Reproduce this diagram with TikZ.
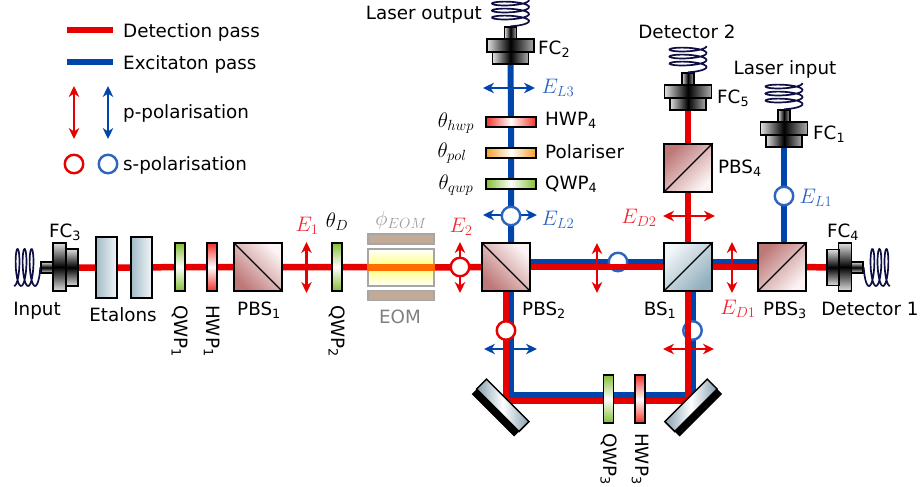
\RequirePackage{fix-cm}
\documentclass[tikz,border=0pt]{standalone}
\usepackage{fontspec}
\setmainfont{DejaVu Sans}
\usetikzlibrary{arrows.meta,backgrounds}
\definecolor{detred}{RGB}{230,0,0}
\definecolor{excblue}{RGB}{0,70,170}
\definecolor{labred}{RGB}{240,40,50}
\definecolor{labblue}{RGB}{45,100,190}
\definecolor{cubered}{RGB}{190,120,120}
\definecolor{cubelight}{RGB}{252,244,244}
\definecolor{bsblue}{RGB}{145,175,190}
\definecolor{bslight}{RGB}{242,246,248}
\definecolor{platered}{RGB}{240,50,40}
\definecolor{plategreen}{RGB}{130,190,50}
\definecolor{plateorange}{RGB}{245,160,40}
\definecolor{mirrorgrey}{RGB}{135,160,175}
\definecolor{eomtan}{RGB}{195,170,150}
\definecolor{coilblue}{RGB}{15,15,70}

\begin{document}
\begin{tikzpicture}[x=1pt,y=-1pt,line cap=butt,>={Stealth[length=11pt,width=10.5pt,inset=3.5pt]}]
	\tikzstyle{txt}=[inner sep=0,font=\fontsize{18.3}{20}\selectfont];
	\tikzstyle{mth}=[inner sep=0,font=\fontsize{21}{24}\selectfont];
	\tikzstyle{detbeam}=[detred,line width=6.5pt];
	\tikzstyle{excbeam}=[excblue,line width=6pt];
	\tikzstyle{cube}=[draw=black,line width=1.5pt,inner sep=0,minimum size=48pt];
	\tikzstyle{pbsa}=[cube,left color=cubered,right color=cubelight,shading angle=135];
	\tikzstyle{pbsb}=[cube,left color=cubered,right color=cubelight,shading angle=45];
	\tikzstyle{bscube}=[cube,left color=bslight,right color=bsblue,shading angle=45];
	\tikzstyle{etalon}=[draw=black,line width=1.5pt,inner sep=0,minimum width=21pt,minimum height=61pt,left color=bsblue!85,right color=bslight];
	\tikzstyle{plate}=[draw=black,line width=1.5pt,inner sep=0,minimum width=10pt,minimum height=48pt];
	\tikzstyle{flat}=[draw=black,line width=1.5pt,inner sep=0,minimum width=50pt,minimum height=10pt];
	\tikzstyle{fcv}=[draw=black,line width=1.4pt,inner sep=0,left color=gray!25,right color=gray!65,middle color=black];
	\tikzstyle{fch}=[draw=black,line width=1.4pt,inner sep=0,top color=gray!25,bottom color=gray!25,middle color=black];
	\tikzstyle{coil}=[coilblue,line width=1.7pt];
	\tikzstyle{mirror}=[draw=black,line width=1.5pt,inner sep=0,minimum width=60pt,minimum height=14pt,left color=mirrorgrey,right color=mirrorgrey,middle color=white];
	\tikzstyle{backing}=[fill=black,inner sep=0,minimum width=60pt,minimum height=7pt];
	\tikzstyle{spol}=[circle,fill=white,line width=2.4pt,inner sep=0,minimum size=18.5pt];
	\tikzstyle{redarrow}=[<->,detred,line width=2.3pt];
	\tikzstyle{bluearrow}=[<->,excblue,line width=2.3pt];
	\useasboundingbox (0,0) rectangle (921,487);
	%% legend
	\coordinate (legdetA) at (67,30);
	\coordinate (legdetB) at (113,30);
	\coordinate (legexcA) at (67,62);
	\coordinate (legexcB) at (113,62);
	\coordinate (legredA) at (74,86);
	\coordinate (legredB) at (74,139);
	\coordinate (legblueA) at (108,86);
	\coordinate (legblueB) at (108,139);
	\node[txt,anchor=west] (legdet) at (123,32.5) {Detection pass};
	\node[txt,anchor=west] (legexc) at (123,64) {Excitaton pass};
	\node[txt,anchor=west] (legp) at (123,113) {p-polarisation};
	\node[txt,anchor=west] (legs) at (123,165) {s-polarisation};
	\node[spol,draw=detred] (legcircr) at (74,164) {};
	\node[spol,draw=labblue] (legcircb) at (108,164) {};
	\draw[detbeam] (legdetA) -- (legdetB);
	\draw[excbeam] (legexcA) -- (legexcB);
	\draw[redarrow] (legredA) -- (legredB);
	\draw[bluearrow] (legblueA) -- (legblueB);
	%% cubes
	\node[pbsa] (pbs1) at (258,267) {};
	\node[pbsa] (pbs2) at (506,267) {};
	\node[bscube] (bs1) at (688,267) {};
	\node[pbsb] (pbs3) at (782,267) {};
	\node[pbsb] (pbs4) at (688,168) {};
	\draw[line width=1.2pt] (pbs1.north west) -- (pbs1.south east);
	\draw[line width=1.2pt] (pbs2.north west) -- (pbs2.south east);
	\draw[line width=1.2pt] (bs1.south west) -- (bs1.north east);
	\draw[line width=1.2pt] (pbs3.south west) -- (pbs3.north east);
	\draw[line width=1.2pt] (pbs4.south west) -- (pbs4.north east);
	%% etalons and plates
	\node[etalon] (etalonA) at (106.5,267.5) {};
	\node[etalon] (etalonB) at (141.5,267.5) {};
	\node[plate,top color=plategreen,bottom color=plategreen,middle color=white] (qwp1) at (180,267) {};
	\node[plate,top color=platered,bottom color=platered,middle color=white] (hwp1) at (212,267) {};
	\node[plate,top color=plategreen,bottom color=plategreen,middle color=white] (qwp2) at (337,267) {};
	\node[plate,top color=plategreen,bottom color=plategreen,middle color=white] (qwp3) at (608.5,399) {};
	\node[plate,top color=platered,bottom color=platered,middle color=white] (hwp3) at (640,399) {};
	\node[flat,left color=platered,right color=platered,middle color=white] (hwp4) at (511,122) {};
	\node[flat,left color=plateorange,right color=plateorange,middle color=white] (polr) at (511,153) {};
	\node[flat,left color=plategreen,right color=plategreen,middle color=white] (qwp4) at (511,184) {};
	%% eom
	\node[draw=gray!70,line width=1.2pt,inner sep=0,minimum width=66pt,minimum height=37pt,top color=white,bottom color=white,middle color=yellow!55] (eom) at (401,267.5) {};
	\node[draw=gray!70,fill=eomtan,line width=1.2pt,inner sep=0,minimum width=66pt,minimum height=10pt] (eomtop) at (401,239) {};
	\node[draw=gray!70,fill=eomtan,line width=1.2pt,inner sep=0,minimum width=66pt,minimum height=10pt] (eombot) at (401,295.5) {};
	\draw[orange!85!red,line width=6.5pt] (eom.west) -- (eom.east);
	%% mirrors
	\node[backing,rotate=-45] (mirlback) at (495.4,412.8) {};
	\node[mirror,rotate=-45] (mirl) at (502.8,405.3) {};
	\node[backing,rotate=45] (mirrback) at (698.4,412.8) {};
	\node[mirror,rotate=45] (mirr) at (691,405.3) {};
	%% fibre couplers
	\node[fcv,minimum width=12pt,minimum height=12pt] (fc2stem) at (510.5,33) {};
	\node[fcv,minimum width=47pt,minimum height=13pt] (fc2wide) at (510.5,45.5) {};
	\node[fcv,minimum width=36pt,minimum height=12pt] (fc2neck) at (510.5,58) {};
	\node[fcv,minimum width=12pt,minimum height=12pt] (fc5stem) at (688,79) {};
	\node[fcv,minimum width=47pt,minimum height=13pt] (fc5wide) at (688,91.5) {};
	\node[fcv,minimum width=36pt,minimum height=12pt] (fc5neck) at (688,104) {};
	\node[fcv,minimum width=12pt,minimum height=12pt] (fc1stem) at (784,116) {};
	\node[fcv,minimum width=47pt,minimum height=13pt] (fc1wide) at (784,128.5) {};
	\node[fcv,minimum width=36pt,minimum height=12pt] (fc1neck) at (784,141) {};
	\node[fch,minimum width=12pt,minimum height=11pt] (fc3stem) at (47,267.5) {};
	\node[fch,minimum width=13pt,minimum height=48pt] (fc3wide) at (59.5,267) {};
	\node[fch,minimum width=12pt,minimum height=37pt] (fc3neck) at (72,267.5) {};
	\node[fch,minimum width=12pt,minimum height=11pt] (fc4stem) at (857,267.5) {};
	\node[fch,minimum width=13pt,minimum height=48pt] (fc4wide) at (845,267) {};
	\node[fch,minimum width=12pt,minimum height=36pt] (fc4neck) at (833,267.5) {};
	%% coils
	\foreach \fcend in {fc2stem.north,fc5stem.north,fc1stem.north}
		\draw[coil,shift={(\fcend)}] plot[domain=0:3.25,samples=90,smooth] ({18.5*sin(360*\x)},{-7*\x-3.5*(1-cos(360*\x))});
	\draw[coil,shift={(fc3stem.west)}] plot[domain=0:3.25,samples=90,smooth] ({-7*\x-3.5*(1-cos(360*\x))},{18.5*sin(360*\x)});
	\draw[coil,shift={(fc4stem.east)}] plot[domain=0:3.25,samples=90,smooth] ({7*\x+3.5*(1-cos(360*\x))},{18.5*sin(360*\x)});
	%% turning points
	\coordinate (bluetl) at (511,395);
	\coordinate (bluetr) at (693,395);
	\coordinate (redtl) at (506,401);
	\coordinate (redtr) at (688,401);
	%% beams
	\begin{pgfonlayer}{background}
		\draw[excbeam] ([xshift=5pt]pbs2.north) -- (qwp4) -- (polr) -- (hwp4) -- (fc2neck);
		\draw[excbeam] (fc1neck.south) -- (fc1neck.south |- pbs3.north);
		\draw[excbeam] ([yshift=5pt]pbs2.east) -- ([yshift=5pt]bs1.west);
		\draw[excbeam] ([yshift=5pt]bs1.east) -- ([yshift=5pt]pbs3.west);
		\draw[excbeam,line cap=rect] ([xshift=5pt]pbs2.south) -- (bluetl) -- (bluetr) -- ([xshift=5pt]bs1.south);
		\node[spol,draw=labblue] (hidcircA) at (618,262) {};
		\node[spol,draw=labblue] (hidcircB) at (692.5,330.5) {};
		\coordinate (elowA) at (484,349);
		\coordinate (elowB) at (537,349);
		\draw[bluearrow] (elowA) -- (elowB);
		\draw[detbeam] (fc3neck) -- (etalonA) -- (etalonB) -- (qwp1) -- (hwp1) -- (pbs1) -- (qwp2) -- (eom);
		\draw[detbeam] (eom) -- (pbs2);
		\draw[detbeam] (pbs2.east) -- (bs1.west);
		\draw[detbeam] (bs1.east) -- (pbs3.west);
		\draw[detbeam] (pbs3.east) -- (fc4neck.west);
		\draw[detbeam] (bs1) -- (pbs4);
		\draw[detbeam] (pbs4) -- (fc5neck);
		\draw[detbeam] (pbs2.south) -- (redtl) -- (redtr) -- (bs1.south);
	\end{pgfonlayer}
	%% polarisation marks
	\coordinate (eoneA) at (306.5,242);
	\coordinate (eoneB) at (306.5,293);
	\coordinate (etwoA) at (460,242);
	\coordinate (etwoB) at (460,293);
	\coordinate (emidA) at (597,243);
	\coordinate (emidB) at (597,293);
	\coordinate (edoneA) at (732,242);
	\coordinate (edoneB) at (732,293);
	\coordinate (edtwoA) at (663,216);
	\coordinate (edtwoB) at (715,216);
	\coordinate (erlowA) at (663,349);
	\coordinate (erlowB) at (714,349);
	\coordinate (eltwoA) at (483,215);
	\coordinate (eltwoB) at (537,215);
	\coordinate (elthrA) at (483,88);
	\coordinate (elthrB) at (535,88);
	\draw[redarrow] (eoneA) -- (eoneB);
	\draw[redarrow] (etwoA) -- (etwoB);
	\draw[redarrow] (emidA) -- (emidB);
	\draw[redarrow] (edoneA) -- (edoneB);
	\draw[redarrow] (edtwoA) -- (edtwoB);
	\draw[redarrow] (erlowA) -- (erlowB);
	\draw[bluearrow] (eltwoA) -- (eltwoB);
	\draw[bluearrow] (elthrA) -- (elthrB);
	\node[spol,draw=detred] (circtwo) at (460,267) {};
	\node[spol,draw=detred] (circlow) at (506,330.5) {};
	\node[spol,draw=labblue] (circltwo) at (511,216) {};
	\node[spol,draw=labblue] (circlone) at (784,196) {};
	%% labels
	\node[txt,anchor=east] (lasout) at (482,15) {Laser output};
	\node[txt] (dettwo) at (687,32) {Detector 2};
	\node[txt] (lasin) at (785,69) {Laser input};
	\node[txt] (input) at (37,311) {Input};
	\node[txt] (etalons) at (123,315) {Etalons};
	\node[txt] (detone) at (870,309) {Detector 1};
	\node[txt,gray] (eomlab) at (400,317) {EOM};
	\node[txt,anchor=west] (fc2lab) at (538,49) {FC\textsubscript{2}};
	\node[txt,anchor=west] (fc5lab) at (717,98) {FC\textsubscript{5}};
	\node[txt,anchor=west] (fc1lab) at (813,134) {FC\textsubscript{1}};
	\node[txt] (fc3lab) at (65,232) {FC\textsubscript{3}};
	\node[txt] (fc4lab) at (843,232) {FC\textsubscript{4}};
	\node[txt] (pbs1lab) at (259,310) {PBS\textsubscript{1}};
	\node[txt] (pbs2lab) at (544,310) {PBS\textsubscript{2}};
	\node[txt] (bs1lab) at (660,310) {BS\textsubscript{1}};
	\node[txt] (pbs3lab) at (785,310) {PBS\textsubscript{3}};
	\node[txt,anchor=west] (pbs4lab) at (718,168) {PBS\textsubscript{4}};
	\node[txt,anchor=west] (hwp4lab) at (545,120) {HWP\textsubscript{4}};
	\node[txt,anchor=west] (pollab) at (545,152) {Polariser};
	\node[txt,anchor=west] (qwp4lab) at (545,184) {QWP\textsubscript{4}};
	\node[txt,rotate=-90,anchor=west] (qwp1lab) at (180,305) {QWP\textsubscript{1}};
	\node[txt,rotate=-90,anchor=west] (hwp1lab) at (212,305) {HWP\textsubscript{1}};
	\node[txt,rotate=-90,anchor=west] (qwp2lab) at (337,305) {QWP\textsubscript{2}};
	\node[txt,rotate=-90,anchor=west] (qwp3lab) at (609,433) {QWP\textsubscript{3}};
	\node[txt,rotate=-90,anchor=west] (hwp3lab) at (640,433) {HWP\textsubscript{3}};
	%% symbols
	\node[mth,labred] (eonelab) at (307,226) {$E_1$};
	\node[mth,labred] (etwolab) at (461,227) {$E_2$};
	\node[mth] (thetad) at (337,222) {$\theta_D$};
	\node[mth,gray!80] (phieom) at (401,220) {$\phi_{EOM}$};
	\node[mth,labred] (edonelab) at (738,309) {$E_{D1}$};
	\node[mth,labred] (edtwolab) at (639,218) {$E_{D2}$};
	\node[mth,labblue] (eloneLab) at (816,198) {$E_{L1}$};
	\node[mth,labblue] (eltwolab) at (558,220) {$E_{L2}$};
	\node[mth,labblue] (elthrlab) at (558,88) {$E_{L3}$};
	\node[mth] (thetahwp) at (456,123) {$\theta_{hwp}$};
	\node[mth] (thetapol) at (452,153) {$\theta_{pol}$};
	\node[mth] (thetaqwp) at (456,185) {$\theta_{qwp}$};
\end{tikzpicture}
\end{document}
